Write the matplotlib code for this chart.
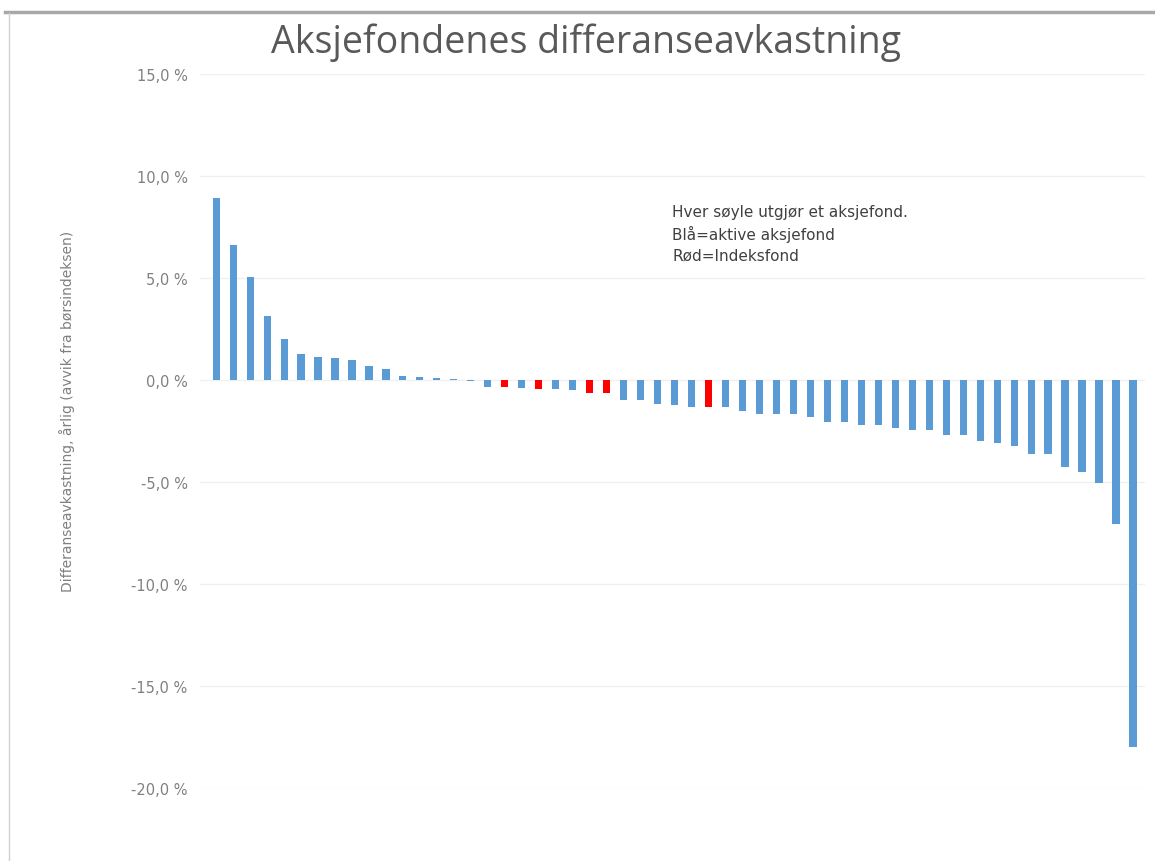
import numpy as np
import matplotlib.pyplot as plt
from matplotlib.lines import Line2D
from matplotlib.ticker import FuncFormatter

# annual excess return per fund vs. the stock index, sorted high to low
returns = [8.9, 6.6, 5.05, 3.15, 2.0, 1.27, 1.15, 1.1, 1.0, 0.68,
           0.55, 0.2, 0.13, 0.1, 0.03, -0.05, -0.33, -0.36, -0.38, -0.45,
           -0.46, -0.48, -0.65, -0.65, -0.98, -1.0, -1.17, -1.22, -1.3, -1.32,
           -1.34, -1.5, -1.65, -1.65, -1.66, -1.82, -2.08, -2.08, -2.2, -2.23,
           -2.34, -2.44, -2.44, -2.68, -2.7, -3.0, -3.09, -3.22, -3.61, -3.64,
           -4.26, -4.5, -5.07, -7.07, -18.0]
# index funds (shown in red)
index_funds = [17, 19, 22, 23, 29]

yticks = [15, 10, 5, 0, -5, -10, -15, -20]
title = "Aksjefondenes differanseavkastning"
ylabel = "Differanseavkastning, årlig (avvik fra børsindeksen)"
note = ["Hver søyle utgjør et aksjefond.", "Blå=aktive aksjefond", "Rød=Indeksfond"]

blue = "#5b9bd5"
red = "#ff0000"
colors = [red if i in index_funds else blue for i in range(len(returns))]

fig = plt.figure(figsize=(11.55, 8.62), dpi=100)
ax = fig.add_axes([0.1732, 0.0847, 0.818, 0.8283])

x = np.arange(len(returns))
ax.bar(x, returns, width=0.42, color=colors, zorder=2)

ax.set_xlim(-0.95, 54.7)
ax.set_ylim(-20, 15)
ax.set_yticks(yticks)
ax.yaxis.set_major_formatter(FuncFormatter(lambda v, p: f"{v:.1f} %".replace(".", ",")))
ax.tick_params(axis="y", length=0, pad=9, labelsize=10.5, labelcolor="#808080")
ax.set_xticks([])
ax.grid(axis="y", color="#f0f0f0", linewidth=1, zorder=0)
for s in ax.spines.values():
    s.set_visible(False)

fig.text(0.507, 0.951, title, ha="center", va="center", fontsize=27,
         color="#595959", family="Open Sans")
fig.text(0.058, 0.523, ylabel, rotation=90, ha="center", va="center",
         fontsize=10, color="#7f7f7f", family="DejaVu Sans")

for i, line in enumerate(note):
    fig.text(0.582, 1 - (213 + i * 21.5) / 862, line, ha="left", va="center",
             fontsize=11, color="#404040", family="DejaVu Sans")

# screenshot frame: shaded top edge and thin left border
fig.add_artist(Line2D([5 / 1155, 1], [1 - 13 / 862] * 2, color="#a8a8a8", linewidth=2.5))
fig.add_artist(Line2D([9 / 1155] * 2, [0, 1 - 14 / 862], color="#d0d0d0", linewidth=1))

fig.savefig("out.png", dpi=100)
